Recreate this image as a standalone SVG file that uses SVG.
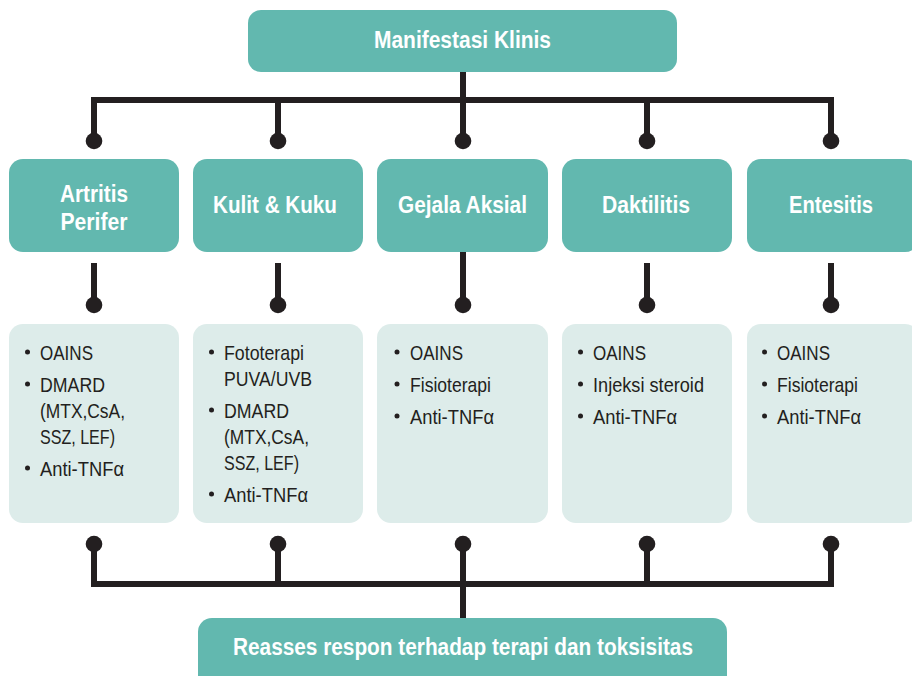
<svg xmlns="http://www.w3.org/2000/svg" width="912" height="676" viewBox="0 0 912 676">
<style>
.hd{fill:#62B8AF}
.ls{fill:#DDECEA}
.ht{font-family:"Liberation Sans",Arial,sans-serif;font-weight:bold;font-size:23px;fill:#FFFFFF;text-anchor:middle}
.lt{font-family:"Liberation Sans",Arial,sans-serif;font-size:21px;fill:#231F20}
.bl{fill:#231F20}
.cn{fill:none;stroke:#231F20;stroke-width:6}
.dt{fill:#231F20}
</style>
<rect width="912" height="676" fill="#FFFFFF"/>
<g id="connectors">
<path class="cn" d="M94,141 V100 H831 V141 M278,100 V141 M463,72 V141 M647,100 V141"/>
<path class="cn" d="M94,263 V305 M278,263 V305 M463,252 V305 M647,263 V305 M831,263 V305"/>
<path class="cn" d="M94,544 V584 H831 V544 M278,544 V584 M463,544 V620 M647,544 V584"/>
<g>
<circle class="dt" cx="94" cy="141" r="8.3"/><circle class="dt" cx="278" cy="141" r="8.3"/><circle class="dt" cx="463" cy="141" r="8.3"/><circle class="dt" cx="647" cy="141" r="8.3"/><circle class="dt" cx="831" cy="141" r="8.3"/>
<circle class="dt" cx="94" cy="305" r="8.3"/><circle class="dt" cx="278" cy="305" r="8.3"/><circle class="dt" cx="463" cy="305" r="8.3"/><circle class="dt" cx="647" cy="305" r="8.3"/><circle class="dt" cx="831" cy="305" r="8.3"/>
<circle class="dt" cx="94" cy="544" r="8.3"/><circle class="dt" cx="278" cy="544" r="8.3"/><circle class="dt" cx="463" cy="544" r="8.3"/><circle class="dt" cx="647" cy="544" r="8.3"/><circle class="dt" cx="831" cy="544" r="8.3"/>
</g>
</g>
<g id="manifestasi">
<rect class="hd" x="248" y="10" width="429" height="62" rx="13"/>
<text class="ht" x="462.5" y="48" textLength="177" lengthAdjust="spacingAndGlyphs">Manifestasi Klinis</text>
</g>
<g id="artritis">
<rect class="hd" x="9" y="159" width="170" height="93" rx="14"/>
<text class="ht" x="94" y="202" textLength="68" lengthAdjust="spacingAndGlyphs">Artritis</text>
<text class="ht" x="94" y="230" textLength="67" lengthAdjust="spacingAndGlyphs">Perifer</text>
</g>
<g id="kulit">
<rect class="hd" x="193" y="159" width="170" height="93" rx="14"/>
<text class="ht" x="275" y="213" textLength="124" lengthAdjust="spacingAndGlyphs">Kulit &amp; Kuku</text>
</g>
<g id="aksial">
<rect class="hd" x="377" y="159" width="171" height="93" rx="14"/>
<text class="ht" x="462.5" y="213" textLength="129" lengthAdjust="spacingAndGlyphs">Gejala Aksial</text>
</g>
<g id="daktilitis">
<rect class="hd" x="562" y="159" width="170" height="93" rx="14"/>
<text class="ht" x="646" y="213" textLength="88" lengthAdjust="spacingAndGlyphs">Daktilitis</text>
</g>
<g id="entesitis">
<rect class="hd" x="747" y="159" width="172" height="93" rx="14"/>
<text class="ht" x="831" y="213" textLength="84" lengthAdjust="spacingAndGlyphs">Entesitis</text>
</g>
<g id="terapi-artritis">
<rect class="ls" x="9" y="324" width="170" height="199" rx="14"/>
<circle class="bl" cx="27.5" cy="352" r="2.5"/><text class="lt" x="40" y="360" textLength="53" lengthAdjust="spacingAndGlyphs">OAINS</text>
<circle class="bl" cx="27.5" cy="384" r="2.5"/><text class="lt" x="40" y="392" textLength="65" lengthAdjust="spacingAndGlyphs">DMARD</text>
<text class="lt" x="40" y="418" textLength="85" lengthAdjust="spacingAndGlyphs">(MTX,CsA,</text>
<text class="lt" x="40" y="444" textLength="75" lengthAdjust="spacingAndGlyphs">SSZ, LEF)</text>
<circle class="bl" cx="27.5" cy="468" r="2.5"/><text class="lt" x="40" y="476" textLength="84" lengthAdjust="spacingAndGlyphs">Anti-TNFα</text>
</g>
<g id="terapi-kulit">
<rect class="ls" x="193" y="324" width="170" height="199" rx="14"/>
<circle class="bl" cx="211.5" cy="352" r="2.5"/><text class="lt" x="224" y="360" textLength="80" lengthAdjust="spacingAndGlyphs">Fototerapi</text>
<text class="lt" x="224" y="386" textLength="88" lengthAdjust="spacingAndGlyphs">PUVA/UVB</text>
<circle class="bl" cx="211.5" cy="410" r="2.5"/><text class="lt" x="224" y="418" textLength="65" lengthAdjust="spacingAndGlyphs">DMARD</text>
<text class="lt" x="224" y="444" textLength="85" lengthAdjust="spacingAndGlyphs">(MTX,CsA,</text>
<text class="lt" x="224" y="470" textLength="75" lengthAdjust="spacingAndGlyphs">SSZ, LEF)</text>
<circle class="bl" cx="211.5" cy="494" r="2.5"/><text class="lt" x="224" y="502" textLength="84" lengthAdjust="spacingAndGlyphs">Anti-TNFα</text>
</g>
<g id="terapi-aksial">
<rect class="ls" x="377" y="324" width="171" height="199" rx="14"/>
<circle class="bl" cx="397" cy="352" r="2.5"/><text class="lt" x="410" y="360" textLength="53" lengthAdjust="spacingAndGlyphs">OAINS</text>
<circle class="bl" cx="397" cy="384" r="2.5"/><text class="lt" x="410" y="392" textLength="81" lengthAdjust="spacingAndGlyphs">Fisioterapi</text>
<circle class="bl" cx="397" cy="416" r="2.5"/><text class="lt" x="410" y="424" textLength="84" lengthAdjust="spacingAndGlyphs">Anti-TNFα</text>
</g>
<g id="terapi-daktilitis">
<rect class="ls" x="562" y="324" width="170" height="199" rx="14"/>
<circle class="bl" cx="580.5" cy="352" r="2.5"/><text class="lt" x="593" y="360" textLength="53" lengthAdjust="spacingAndGlyphs">OAINS</text>
<circle class="bl" cx="580.5" cy="384" r="2.5"/><text class="lt" x="593" y="392" textLength="111" lengthAdjust="spacingAndGlyphs">Injeksi steroid</text>
<circle class="bl" cx="580.5" cy="416" r="2.5"/><text class="lt" x="593" y="424" textLength="84" lengthAdjust="spacingAndGlyphs">Anti-TNFα</text>
</g>
<g id="terapi-entesitis">
<rect class="ls" x="747" y="324" width="172" height="199" rx="14"/>
<circle class="bl" cx="764.5" cy="352" r="2.5"/><text class="lt" x="777" y="360" textLength="53" lengthAdjust="spacingAndGlyphs">OAINS</text>
<circle class="bl" cx="764.5" cy="384" r="2.5"/><text class="lt" x="777" y="392" textLength="81" lengthAdjust="spacingAndGlyphs">Fisioterapi</text>
<circle class="bl" cx="764.5" cy="416" r="2.5"/><text class="lt" x="777" y="424" textLength="84" lengthAdjust="spacingAndGlyphs">Anti-TNFα</text>
</g>
<g id="reasses">
<rect class="hd" x="198" y="618" width="529" height="80" rx="14"/>
<text class="ht" x="463" y="655" textLength="460" lengthAdjust="spacingAndGlyphs">Reasses respon terhadap terapi dan toksisitas</text>
</g>
</svg>
